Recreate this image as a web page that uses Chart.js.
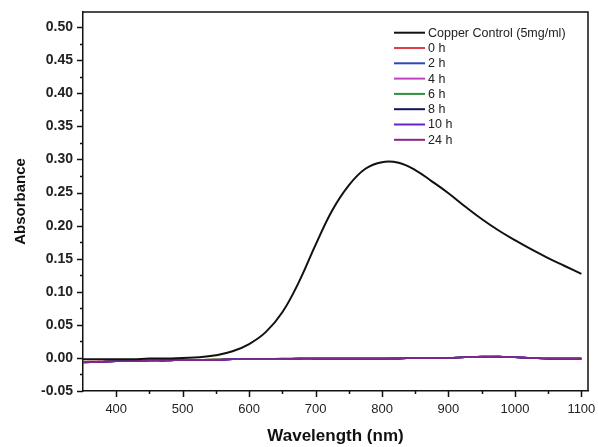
<!DOCTYPE html>
<html>
<head>
<meta charset="utf-8">
<script src="https://cdn.jsdelivr.net/npm/chart.js@4"></script>
<style>
    html, body { margin: 0; padding: 0; background: #fff; }
</style>
</head>
<body>
<canvas id="myChart" width="598" height="447"></canvas>
<script>
// Wavelength sampling (nm)
const wavelengths = [350, 375, 400, 425, 450, 475, 500, 525, 550, 575, 600, 625, 650, 675, 700, 725,
    750, 775, 800, 825, 850, 875, 900, 925, 950, 975, 1000, 1025, 1050, 1075, 1100];

// Absorbance values per series
const copperControl = [-0.002, -0.002, -0.002, -0.002, -0.001, -0.001, 0.000, 0.001, 0.004, 0.010, 0.021, 0.039,
    0.069, 0.115, 0.171, 0.223, 0.261, 0.286, 0.296, 0.295, 0.284, 0.267, 0.249, 0.229, 0.210, 0.193,
    0.178, 0.164, 0.151, 0.139, 0.127];
const h0 = [-0.006, -0.005, -0.005, -0.004, -0.004, -0.003, -0.003, -0.003, -0.002, -0.002, -0.002, -0.002,
    -0.001, -0.001, -0.001, -0.001, -0.001, -0.001, -0.001, 0.000, 0.000, 0.000, 0.000, 0.001, 0.001, 0.001,
    0.001, 0.000, -0.001, -0.001, -0.001];
const h2 = [-0.006, -0.006, -0.005, -0.005, -0.004, -0.004, -0.003, -0.003, -0.003, -0.002, -0.002, -0.002,
    -0.002, -0.001, -0.001, -0.001, -0.001, -0.001, -0.001, -0.001, 0.000, 0.000, 0.000, 0.001, 0.001, 0.002,
    0.001, 0.000, -0.001, -0.001, -0.001];
const h4 = [-0.007, -0.006, -0.005, -0.005, -0.004, -0.004, -0.003, -0.003, -0.003, -0.002, -0.002, -0.002,
    -0.002, -0.001, -0.001, -0.001, -0.001, -0.001, -0.001, -0.001, 0.000, 0.000, 0.000, 0.001, 0.002, 0.002,
    0.001, 0.000, -0.001, -0.001, -0.001];
const h6 = [-0.006, -0.006, -0.005, -0.005, -0.004, -0.004, -0.003, -0.003, -0.002, -0.002, -0.002, -0.002,
    -0.001, -0.001, -0.001, -0.001, -0.001, -0.001, -0.001, 0.000, 0.000, 0.000, 0.000, 0.001, 0.001, 0.002,
    0.001, 0.000, -0.001, -0.001, -0.001];
const h8 = [-0.007, -0.006, -0.005, -0.005, -0.004, -0.004, -0.003, -0.003, -0.003, -0.002, -0.002, -0.002,
    -0.002, -0.001, -0.001, -0.001, -0.001, -0.001, -0.001, -0.001, 0.000, 0.000, 0.000, 0.001, 0.002, 0.002,
    0.001, 0.000, -0.001, -0.001, -0.001];
const h10 = [-0.007, -0.006, -0.005, -0.005, -0.004, -0.004, -0.003, -0.003, -0.003, -0.002, -0.002, -0.002,
    -0.002, -0.001, -0.001, -0.001, -0.001, -0.001, -0.001, -0.001, 0.000, 0.000, 0.000, 0.001, 0.002, 0.002,
    0.001, 0.000, -0.001, -0.001, -0.001];
const h24 = [-0.007, -0.006, -0.005, -0.005, -0.004, -0.004, -0.003, -0.003, -0.003, -0.002, -0.002, -0.002,
    -0.002, -0.001, -0.001, -0.001, -0.001, -0.001, -0.001, -0.001, 0.000, 0.000, 0.000, 0.001, 0.002, 0.002,
    0.001, 0.000, -0.001, -0.001, -0.001];

const seriesLabels = ["Copper Control (5mg/ml)", "0 h", "2 h", "4 h", "6 h", "8 h", "10 h", "24 h"];
const seriesValues = [copperControl, h0, h2, h4, h6, h8, h10, h24];
const seriesColors = ["#111111", "#e0404c", "#2f45b8", "#c43fc4", "#2f8f3a", "#14145a", "#6a22c8", "#86268a"];

// tick labels
const xTicks = [400, 500, 600, 700, 800, 900, 1000, 1100];
const yTicks = [-0.05, 0.00, 0.05, 0.10, 0.15, 0.20, 0.25, 0.30, 0.35, 0.40, 0.45, 0.50];

const FONT = "'Liberation Sans', Arial, sans-serif";

// draws frame, tick marks and the legend
const extrasPlugin = {
    id: "extras",
    afterDraw(chart) {
        const ctx = chart.ctx;
        const a = chart.chartArea;
        const x = chart.scales.x;
        const y = chart.scales.y;
        ctx.save();
        ctx.strokeStyle = "#111";
        ctx.lineWidth = 1.5;
        ctx.beginPath();
        ctx.moveTo(a.left, a.top);
        ctx.lineTo(a.right, a.top);
        ctx.lineTo(a.right, a.bottom);
        ctx.stroke();

        // major + minor ticks on the x axis
        ctx.beginPath();
        xTicks.forEach((v) => {
            const px = Math.round(x.getPixelForValue(v)) + 0.5;
            ctx.moveTo(px, a.bottom);
            ctx.lineTo(px, a.bottom + 6);
            const mid = v - (xTicks[1] - xTicks[0]) / 2;
            if (mid > x.min) {
                const pm = Math.round(x.getPixelForValue(mid)) + 0.5;
                ctx.moveTo(pm, a.bottom);
                ctx.lineTo(pm, a.bottom + 3);
            }
        });
        // y axis
        yTicks.forEach((v) => {
            const py = Math.round(y.getPixelForValue(v)) + 0.5;
            ctx.moveTo(a.left, py);
            ctx.lineTo(a.left - 6, py);
            const mid = v + (yTicks[1] - yTicks[0]) / 2;
            if (mid < y.max) {
                const pm = Math.round(y.getPixelForValue(mid)) + 0.5;
                ctx.moveTo(a.left, pm);
                ctx.lineTo(a.left - 3, pm);
            }
        });
        ctx.stroke();

        // legend
        ctx.font = "12.5px " + FONT;
        ctx.textBaseline = "middle";
        ctx.textAlign = "left";
        chart.data.datasets.forEach((ds, i) => {
            const ly = 32.7 + i * 15.3;
            ctx.strokeStyle = ds.borderColor;
            ctx.lineWidth = 2;
            ctx.beginPath();
            ctx.moveTo(394, ly);
            ctx.lineTo(425, ly);
            ctx.stroke();
            ctx.fillStyle = "#222";
            ctx.fillText(ds.label, 428, ly + 0.5);
        });
        ctx.restore();
    }
};

const ctx = document.getElementById("myChart").getContext("2d");

const datasets = seriesLabels.map((label, i) => {
    return {
        label: label,
        data: wavelengths.map((w, j) => ({ x: w, y: seriesValues[i][j] })),
        borderColor: seriesColors[i],
        borderWidth: i === 0 ? 2 : 1.6,
        pointRadius: 0,
        fill: false,
        tension: 0.4,
        // black on top, then 24 h, then the rest
        order: i === 0 ? 0 : (i === 7 ? 1 : 10 - i)
    };
});

const chart = new Chart(ctx, {
    type: "line",
    data: { datasets: datasets },
    plugins: [extrasPlugin],
    options: {
        responsive: false,
        animation: false,
        layout: { padding: { top: 12, right: 10, bottom: 0, left: 0 } },
        plugins: {
            legend: { display: false },
            tooltip: { enabled: false }
        },
        scales: {
            x: {
                type: "linear",
                min: 350,
                max: 1110,
                grid: { display: false, drawTicks: false },
                border: { display: true, color: "#111", width: 1.5 },
                afterBuildTicks: (scale) => { scale.ticks = xTicks.map(v => ({ value: v })); },
                afterFit: (scale) => {
                    scale.height = 56;
                    scale.paddingLeft = 0;
                    scale.paddingRight = 0;
                },
                ticks: {
                    autoSkip: false,
                    maxRotation: 0,
                    padding: 11,
                    color: "#222",
                    font: { family: FONT, size: 13 },
                    callback: (v) => String(v)
                },
                title: {
                    display: true,
                    text: "Wavelength (nm)",
                    color: "#111",
                    font: { family: FONT, size: 17, weight: "bold" },
                    padding: { top: 0, bottom: 0 }
                }
            },
            y: {
                min: -0.05,
                max: 0.523,
                grid: { display: false, drawTicks: false },
                border: { display: true, color: "#111", width: 1.5 },
                afterBuildTicks: (scale) => { scale.ticks = yTicks.map(v => ({ value: v })); },
                afterFit: (scale) => {
                    scale.width = 83;
                    scale.paddingTop = 0;
                    scale.paddingBottom = 0;
                },
                ticks: {
                    padding: 10,
                    color: "#222",
                    font: { family: FONT, size: 14, weight: "bold" },
                    callback: (v) => Number(v).toFixed(2)
                },
                title: {
                    display: true,
                    text: "Absorbance",
                    color: "#111",
                    font: { family: FONT, size: 15, weight: "bold" },
                    padding: { top: 12, bottom: 0 }
                }
            }
        }
    }
});
</script>
</body>
</html>
